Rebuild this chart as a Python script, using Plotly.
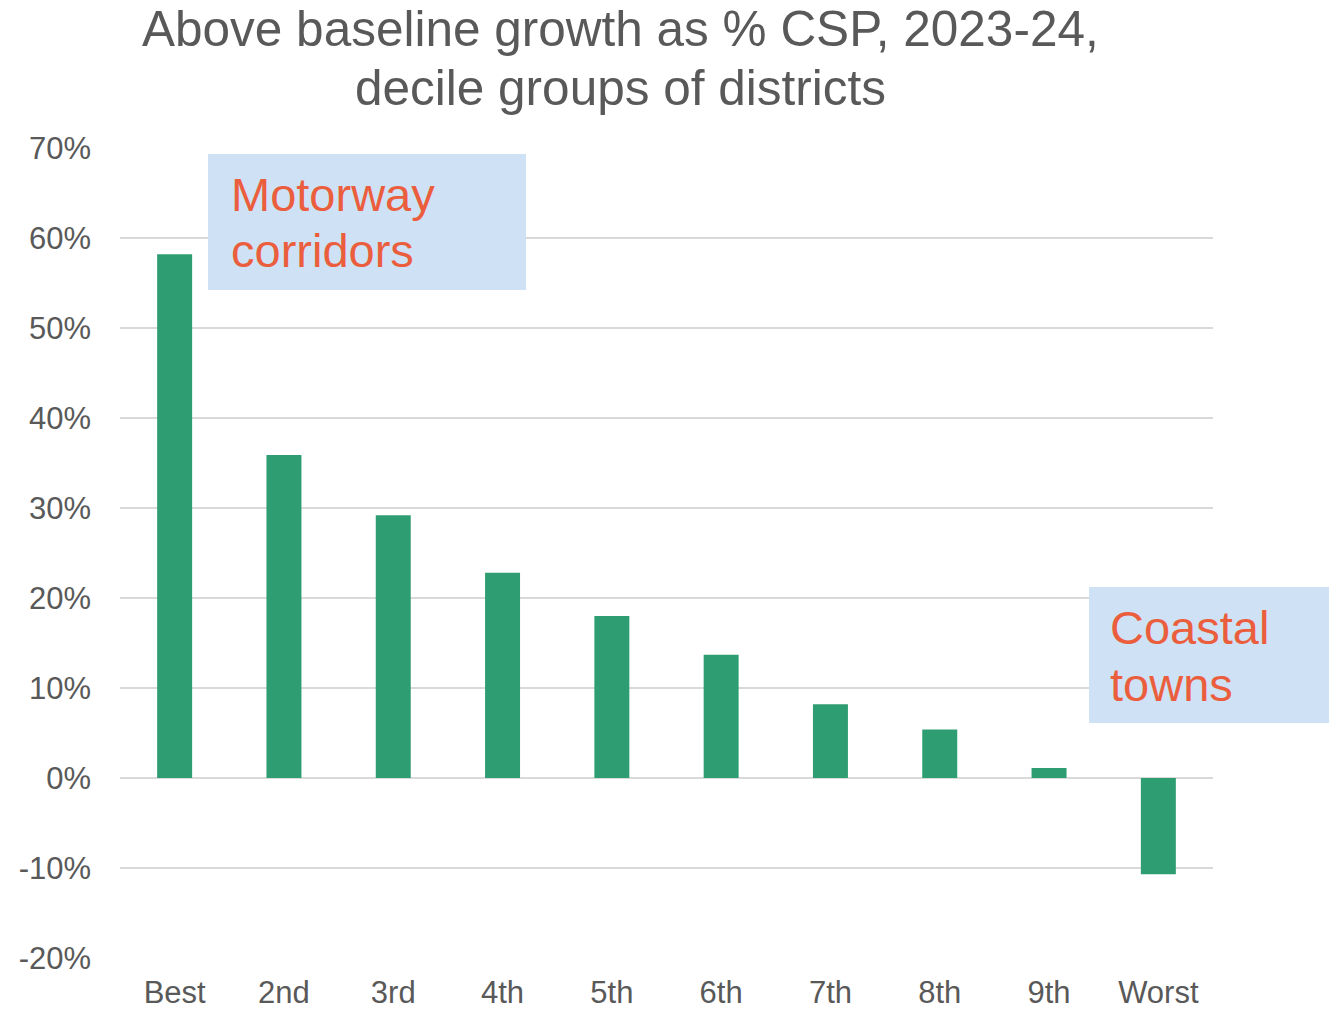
import plotly.graph_objects as go

# Decile groups of districts and their above-baseline growth (% of CSP)
deciles = ["Best", "2nd", "3rd", "4th", "5th", "6th", "7th", "8th", "9th", "Worst"]
growth_pct = [58.2, 35.9, 29.2, 22.8, 18.0, 13.7, 8.2, 5.4, 1.1, -10.7]
y_ticks = [-20, -10, 0, 10, 20, 30, 40, 50, 60, 70]
y_tick_labels = [f"{v}%" for v in y_ticks]

W, H = 1329, 1009
L, R, T, B = 120, 116, 148, 51
FONT = "Liberation Sans, Arial, sans-serif"
GREY = "#595959"
BAR = "#2E9E72"
CALLOUT_BG = "#CFE2F5"
CALLOUT_TXT = "#EB5E3D"


def px_x(x):
    return (x - L) / (W - L - R)


def px_y(y):
    return 1 - (y - T) / (H - T - B)


fig = go.Figure(
    go.Bar(
        x=deciles,
        y=growth_pct,
        marker=dict(color=BAR, line=dict(width=0)),
        width=0.32,
    )
)

# Callout boxes
boxes = [
    (208, 154, 526, 290),
    (1089, 587, 1329, 723),
]
for x0, y0, x1, y1 in boxes:
    fig.add_shape(
        type="rect", xref="paper", yref="paper",
        x0=px_x(x0), x1=px_x(x1), y0=px_y(y1), y1=px_y(y0),
        fillcolor=CALLOUT_BG, line=dict(width=0), layer="above",
    )

# Callout text, one line at a time
callout_lines = [
    ("Motorway", 229, 194),
    ("corridors", 229, 251),
    ("Coastal", 1108, 627),
    ("towns", 1108, 684),
]
for text, x, y in callout_lines:
    fig.add_annotation(
        text=text, xref="paper", yref="paper",
        x=px_x(x), y=px_y(y), xanchor="left", yanchor="middle",
        align="left", showarrow=False,
        font=dict(family=FONT, size=47, color=CALLOUT_TXT),
    )

# Two-line chart title
title_lines = [
    ("Above baseline growth as % CSP, 2023-24,", 29),
    ("decile groups of districts", 87),
]
for text, y in title_lines:
    fig.add_annotation(
        text=text, xref="paper", yref="paper",
        x=px_x(620.5), y=px_y(y), xanchor="center", yanchor="middle",
        showarrow=False,
        font=dict(family=FONT, size=49.5, color=GREY),
    )

fig.update_layout(
    width=W, height=H,
    margin=dict(l=L, r=R, t=T, b=B, pad=0),
    paper_bgcolor="white", plot_bgcolor="white",
    showlegend=False,
    bargap=0.68,
    font=dict(family=FONT, color=GREY),
)
fig.update_xaxes(
    automargin=False,
    showgrid=False, showline=False, ticks="",
    tickfont=dict(family=FONT, size=31, color=GREY),
    ticklabelstandoff=13,
)
fig.update_yaxes(
    automargin=False,
    range=[-20, 70], tickvals=y_ticks, ticktext=y_tick_labels,
    showgrid=True, gridcolor="#D9D9D9", gridwidth=1.5,
    zeroline=True, zerolinecolor="#D9D9D9", zerolinewidth=1.5,
    showline=False, ticks="",
    tickfont=dict(family=FONT, size=31, color=GREY),
    ticklabelstandoff=28,
)

fig.write_html("out.html")
